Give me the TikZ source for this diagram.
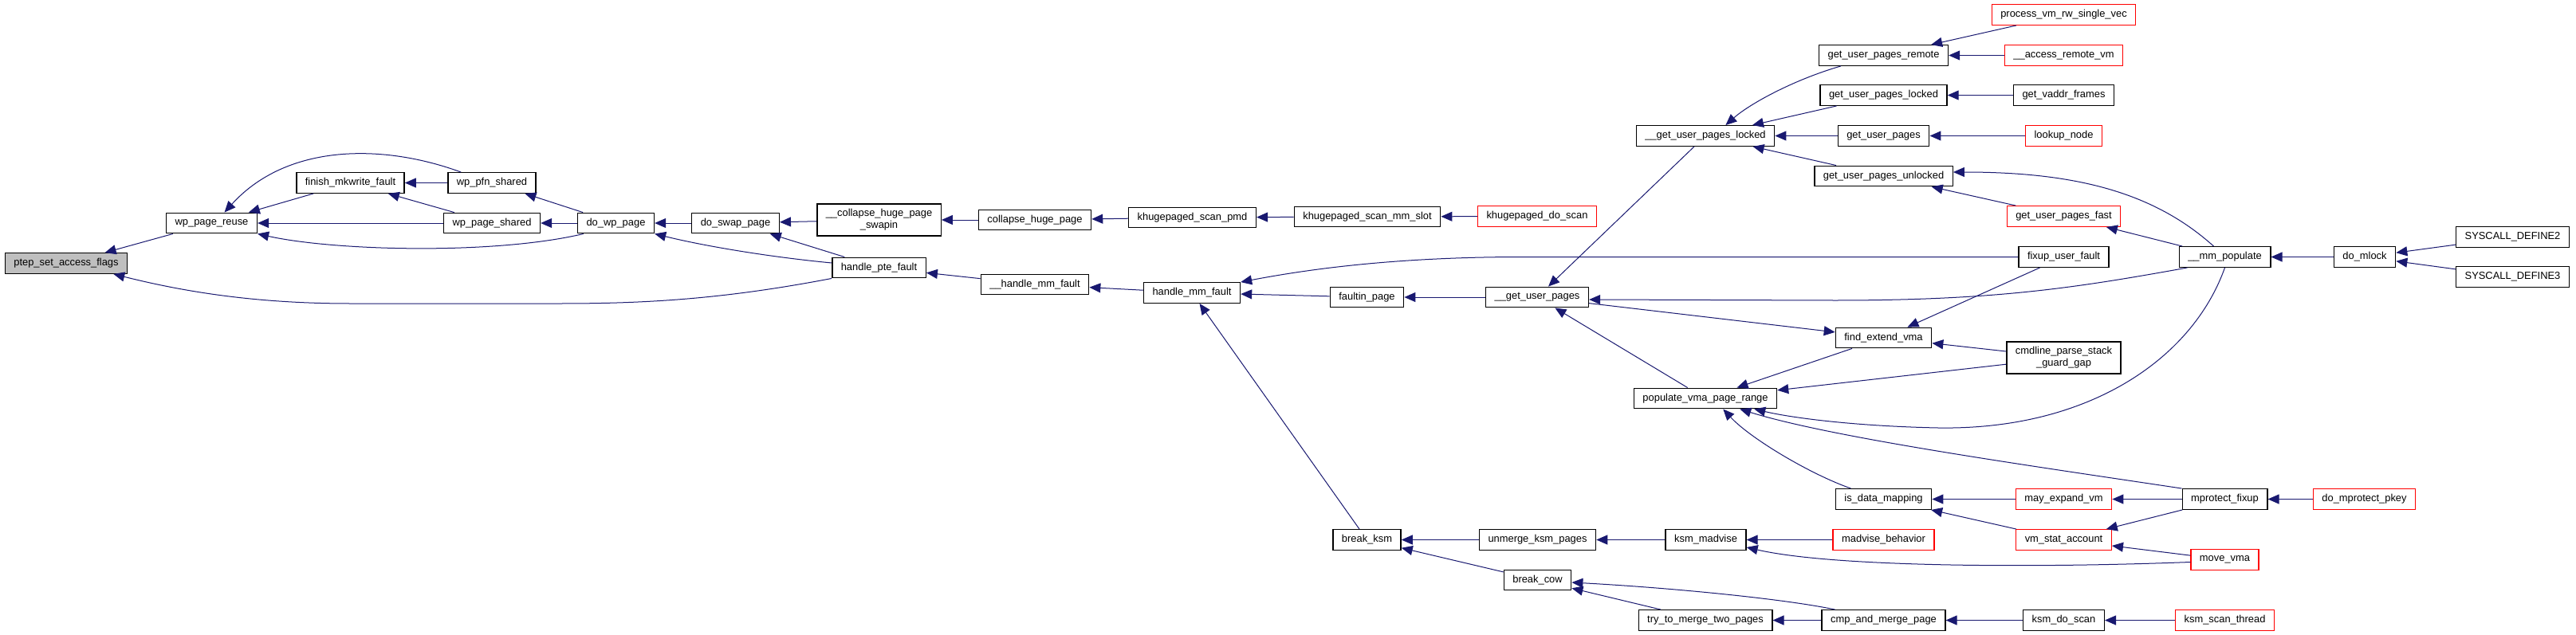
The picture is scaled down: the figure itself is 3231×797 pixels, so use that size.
\documentclass[tikz,border=0pt]{standalone}
\usepackage{fontspec}
\setmainfont{Liberation Sans}
\usetikzlibrary{arrows.meta}

\definecolor{edgeblue}{HTML}{191970}
\definecolor{rootgray}{HTML}{BFBFBF}

\begin{document}
\begin{tikzpicture}[x=0.5pt, y=-0.5pt,
    fn/.style={draw=black, line width=0.7pt, fill=white, inner xsep=5.5pt, inner ysep=2pt,
      minimum height=12.75pt, font=\fontsize{6.45}{7.5}\selectfont},
    fn root/.style={fn, fill=rootgray},
    fn ext/.style={fn, draw=red},
    two line/.style={minimum height=20pt, align=center},
    call/.style={draw=edgeblue, line width=0.5pt, -{Triangle[length=7pt, width=6pt]}}]

  \useasboundingbox (0,0) rectangle (3231,797);

  % ===== Columns 1--6 =====
  \node[fn root] (ptep) at (83,330.5) {ptep\_set\_access\_flags};
  \node[fn] (wpr) at (265.5,280) {wp\_page\_reuse};
  \node[fn] (fmf) at (439.5,229.5) {finish\_mkwrite\_fault};
  \node[fn] (wpfn) at (617,229.5) {wp\_pfn\_shared};
  \node[fn] (wps) at (617,280) {wp\_page\_shared};
  \node[fn] (dwp) at (772.5,280) {do\_wp\_page};
  \node[fn] (dsp) at (922.5,280) {do\_swap\_page};

  % ===== Columns 7--11 =====
  \node[fn, two line] (chps) at (1102.5,276) {\_\_collapse\_huge\_page\\\_swapin};
  \node[fn] (hpf) at (1102.5,336) {handle\_pte\_fault};
  \node[fn] (chp) at (1298,276) {collapse\_huge\_page};
  \node[fn] (hmmf2) at (1298,357) {\_\_handle\_mm\_fault};
  \node[fn] (ksp) at (1495.5,273) {khugepaged\_scan\_pmd};
  \node[fn] (hmf) at (1495,367.5) {handle\_mm\_fault};
  \node[fn] (ksms) at (1715,272) {khugepaged\_scan\_mm\_slot};
  \node[fn] (fp) at (1714.5,373) {faultin\_page};
  \node[fn] (bksm) at (1714.5,677.5) {break\_ksm};
  \node[fn ext] (kds) at (1928,271.5) {khugepaged\_do\_scan};
  \node[fn] (gup2) at (1928,373) {\_\_get\_user\_pages};
  \node[fn] (umk) at (1928.5,677.5) {unmerge\_ksm\_pages};
  \node[fn] (bcow) at (1928.5,728) {break\_cow};

  % ===== Columns 12--13 =====
  \node[fn] (gupl2) at (2139,170.5) {\_\_get\_user\_pages\_locked};
  \node[fn] (pvpr) at (2139,500) {populate\_vma\_page\_range};
  \node[fn] (kmad) at (2139.5,677.5) {ksm\_madvise};
  \node[fn] (ttm) at (2139,778.5) {try\_to\_merge\_two\_pages};
  \node[fn] (gupr) at (2362.5,69.5) {get\_user\_pages\_remote};
  \node[fn] (gupl) at (2362.5,119.5) {get\_user\_pages\_locked};
  \node[fn] (gup) at (2362.5,170.5) {get\_user\_pages};
  \node[fn] (gupu) at (2362.5,221) {get\_user\_pages\_unlocked};
  \node[fn] (fev) at (2362.5,424) {find\_extend\_vma};
  \node[fn] (idm) at (2362.5,626.5) {is\_data\_mapping};
  \node[fn ext] (mbh) at (2362.5,677.5) {madvise\_behavior};
  \node[fn] (camp) at (2362.5,778.5) {cmp\_and\_merge\_page};

  % ===== Columns 14--17 =====
  \node[fn ext] (prv) at (2588.5,18.5) {process\_vm\_rw\_single\_vec};
  \node[fn ext] (arv) at (2588.5,69.5) {\_\_access\_remote\_vm};
  \node[fn] (gvf) at (2588.5,119.5) {get\_vaddr\_frames};
  \node[fn ext] (ln) at (2588.5,170.5) {lookup\_node};
  \node[fn ext] (gupf) at (2588.5,271.5) {get\_user\_pages\_fast};
  \node[fn] (fuf) at (2588.5,322.5) {fixup\_user\_fault};
  \node[fn, two line] (cpsg) at (2588.5,449) {cmdline\_parse\_stack\\\_guard\_gap};
  \node[fn ext] (mev) at (2588.5,626.5) {may\_expand\_vm};
  \node[fn ext] (vsa) at (2588.5,677.5) {vm\_stat\_account};
  \node[fn] (kds2) at (2588.5,778.5) {ksm\_do\_scan};
  \node[fn] (mmp) at (2790.5,322.5) {\_\_mm\_populate};
  \node[fn] (mpf) at (2790.5,626.5) {mprotect\_fixup};
  \node[fn ext] (mvma) at (2790.5,702.5) {move\_vma};
  \node[fn ext] (kst) at (2790.5,778.5) {ksm\_scan\_thread};
  \node[fn] (dml) at (2966,322.5) {do\_mlock};
  \node[fn ext] (dmp) at (2965.5,626.5) {do\_mprotect\_pkey};
  \node[fn] (sd2) at (3151.5,297.5) {SYSCALL\_DEFINE2};
  \node[fn] (sd3) at (3151.5,347.5) {SYSCALL\_DEFINE3};

  % ===== Calls (caller -- callee) =====
  \draw[call] (wpr) -- (ptep);
  \draw[call] (hpf.south west) .. controls (900,377) and (800,381) .. (700,381)
    -- (440,381) .. controls (320,381) and (230,366) .. ([xshift=-9pt]ptep.south east);
  \draw[call] (fmf) -- (wpr);
  \draw[call] ([xshift=8.5pt]wpfn.north west) .. controls (480,180) and (360,180) .. ([xshift=8pt]wpr.north);
  \draw[call] (wps) -- (wpr);
  \draw[call] ([xshift=4pt]dwp.south west) .. controls (620,320) and (420,315) .. (wpr.south east);
  \draw[call] (wpfn) -- (fmf);
  \draw[call] (wps) -- (fmf);
  \draw[call] (dwp) -- (wpfn);
  \draw[call] (dwp) -- (wps);
  \draw[call] (dsp) -- (dwp);
  \draw[call] ([yshift=3pt]hpf.west) .. controls (960,322) and (880,308) .. (dwp.south east);
  \draw[call] (chps) -- (dsp);
  \draw[call] (hpf) -- (dsp);
  \draw[call] (chp) -- (chps);
  \draw[call] (ksp) -- (chp);
  \draw[call] (ksms) -- (ksp);
  \draw[call] (kds) -- (ksms);
  \draw[call] (hmmf2) -- (hpf);
  \draw[call] (hmf) -- (hmmf2);
  \draw[call] (fuf.west) -- (1910,322.5) .. controls (1750,322.5) and (1640,338) .. (hmf.north east);
  \draw[call] (fp) -- (hmf);
  \draw[call] (bksm) -- (hmf);
  \draw[call] (gup2) -- (fp);
  \draw[call] (gupl2) -- (gup2);
  \draw[call] (pvpr) -- (gup2);
  \draw[call] ([xshift=5.5pt]mmp.south west) .. controls (2600,362) and (2500,377) .. (2300,377)
    -- ([yshift=-1.5pt]gup2.east);
  \draw[call] (gup2) -- (fev);

  % get_user_pages family
  \draw[call] ([xshift=14pt]gupr.south west) .. controls (2250,100) and (2195,130) .. ([xshift=-31pt]gupl2.north east);
  \draw[call] (gupl) -- (gupl2);
  \draw[call] (gup) -- (gupl2);
  \draw[call] (gupu) -- (gupl2);
  \draw[call] (prv) -- (gupr);
  \draw[call] (arv) -- (gupr);
  \draw[call] (gvf) -- (gupl);
  \draw[call] (ln) -- (gup);
  \draw[call] (gupf) -- (gupu);
  \draw[call] ([xshift=-7pt]mmp.north) .. controls (2700,240) and (2600,216) .. ([yshift=2.5pt]gupu.east);
  \draw[call] (mmp) -- (gupf);

  % find_extend_vma / populate_vma_page_range
  \draw[call] (fuf) -- (fev);
  \draw[call] (cpsg) -- (fev);
  \draw[call] (fev) -- (pvpr);
  \draw[call] (cpsg) -- (pvpr);
  \draw[call] (mmp.south) .. controls (2750,450) and (2620,540) .. (2431,537)
    .. controls (2330,535) and (2250,525) .. ([xshift=-14.5pt]pvpr.south east);
  \draw[call] (mpf.north west) .. controls (2550,585) and (2300,550) .. ([xshift=-23.5pt]pvpr.south east);
  \draw[call] ([xshift=-20.5pt]idm.north) .. controls (2270,595) and (2195,550) .. ([xshift=-34pt]pvpr.south east);
  \draw[call] (mev) -- (idm);
  \draw[call] (vsa) -- (idm);
  \draw[call] (mpf) -- (mev);
  \draw[call] (mpf) -- (vsa);
  \draw[call] (mvma) -- (vsa);

  % ksm
  \draw[call] ([yshift=-1.5pt]mvma.west) .. controls (2550,713) and (2300,712) .. ([yshift=2pt]kmad.south east);
  \draw[call] (mbh) -- (kmad);
  \draw[call] (kmad) -- (umk);
  \draw[call] (umk) -- (bksm);
  \draw[call] (bcow) -- (bksm);
  \draw[call] ([xshift=8.5pt]camp.north west) .. controls (2240,752) and (2100,738) .. ([yshift=-1.5pt]bcow.east);
  \draw[call] (ttm) -- (bcow);
  \draw[call] (camp) -- (ttm);
  \draw[call] (kds2) -- (camp);
  \draw[call] (kst) -- (kds2);

  % syscalls
  \draw[call] (dml) -- (mmp);
  \draw[call] (sd2) -- (dml);
  \draw[call] (sd3) -- (dml);
  \draw[call] (dmp) -- (mpf);

\end{tikzpicture}
\end{document}
